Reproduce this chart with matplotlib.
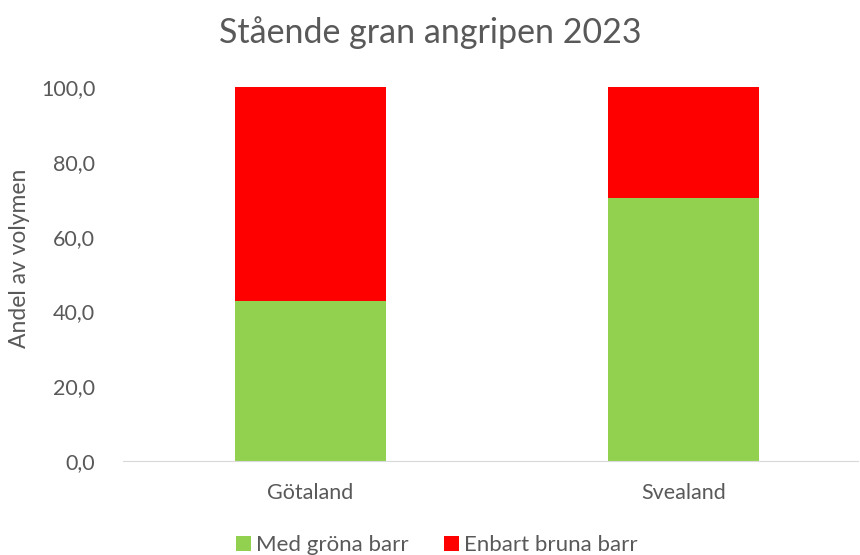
import matplotlib
matplotlib.use('Agg')
import matplotlib.pyplot as plt
import numpy as np

# --- data ---
regions = ['Götaland', 'Svealand']
green_share = [42.8, 70.4]
brown_share = [57.2, 29.6]
series_labels = ['Med gröna barr', 'Enbart bruna barr']
title = 'Stående gran angripen 2023'
ylabel = 'Andel av volymen'
yticks = [0, 20, 40, 60, 80, 100]

plt.rcParams['font.family'] = ['Lato', 'DejaVu Sans']
text_col = '#595959'

fig = plt.figure(figsize=(8.6, 5.55), dpi=100)
ax = fig.add_axes([123 / 860, 1 - 461 / 555, 735 / 860, 374 / 555])

x = np.arange(len(regions))
ax.bar(x, green_share, width=0.405, color='#92d050', label=series_labels[0], zorder=2)
ax.bar(x, brown_share, width=0.405, bottom=green_share, color='#ff0000', label=series_labels[1], zorder=2)

ax.set_xlim(-0.503, 1.468)
ax.set_ylim(0, 100)
ax.set_yticks(yticks)
ax.set_yticklabels([f'{v:.1f}'.replace('.', ',') for v in yticks], fontsize=15.5, color=text_col)
ax.set_xticks(x)
ax.set_xticklabels(regions, fontsize=15.5, color=text_col)
ax.tick_params(axis='y', length=0, pad=20)
ax.tick_params(axis='x', length=0, pad=16)

for s in ['top', 'right', 'left']:
    ax.spines[s].set_visible(False)
ax.spines['bottom'].set_color('#d9d9d9')

# axis title and chart title placed like the Excel original
fig.text(20 / 860, 1 - 258 / 555, ylabel, rotation=90, ha='center', va='center',
         fontsize=16.5, color=text_col)
fig.text(0.5, 1 - 33 / 555, title, ha='center', va='center', fontsize=24.5, color=text_col)

fig.legend(loc='center', bbox_to_anchor=(437 / 860, 1 - 545 / 555), ncol=2, frameon=False,
           fontsize=16, labelcolor=text_col, handlelength=0.65, handleheight=0.65,
           handletextpad=0.25, columnspacing=1.6, borderpad=0)

fig.savefig('out.png', dpi=100)
